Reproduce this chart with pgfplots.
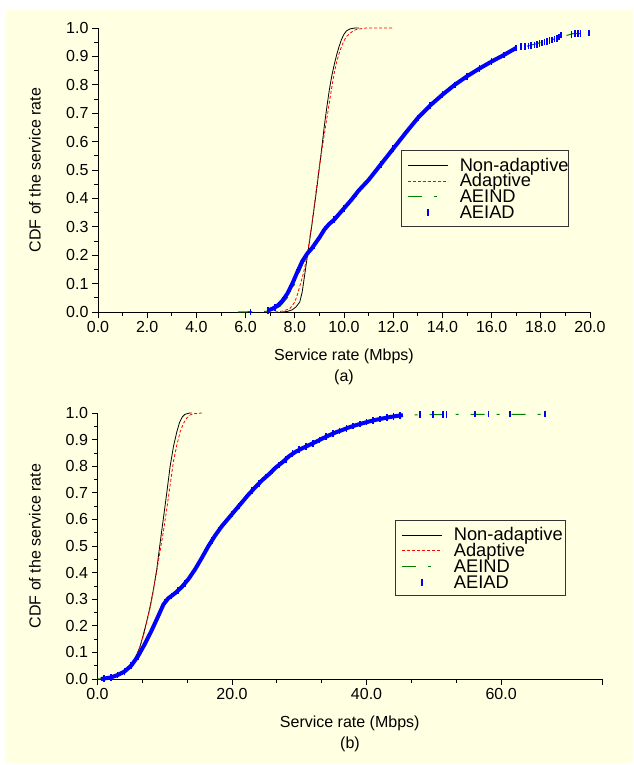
\documentclass[border=0pt]{standalone}
\usepackage{fontspec}
\setmainfont{Liberation Sans}
\usepackage{pgfplots}
\pgfplotsset{compat=1.18}
\definecolor{bgyellow}{HTML}{FFFFE1}
\definecolor{dgreen}{RGB}{0,128,0}

\pgfplotsset{
  cdfstyle/.style={
    scale only axis, anchor=south west, clip=false,
    ymin=0, ymax=1,
    axis x line*=bottom, axis y line*=left,
    axis line style={line width=0.8pt, black},
    tick style={line width=0.8pt, black},
    tick align=outside, major tick length=6pt, minor tick length=3.5pt,
    ytick={0,0.1,0.2,0.3,0.4,0.5,0.6,0.7,0.8,0.9,1.0},
    minor y tick num=1,
    /pgf/number format/assume math mode=true,
    xticklabel={\pgfmathprintnumber[fixed,fixed zerofill,precision=1]{\tick}},
    yticklabel={\pgfmathprintnumber[fixed,fixed zerofill,precision=1]{\tick}},
    every tick label/.append style={font=\fontsize{16}{19}\selectfont},
    every axis y label/.style={rotate=90, anchor=center, font=\fontsize{16}{19}\selectfont},
    every axis x label/.style={at={(axis description cs:0.5,0)}, anchor=base, yshift=-48pt, font=\fontsize{16}{19}\selectfont},
    xlabel={Service rate (Mbps)},
    ylabel={CDF of the service rate},
    legend image code/.code={\draw[mark repeat=2,mark phase=2,##1] plot coordinates {(0pt,0pt) (20pt,0pt) (40pt,0pt)};\path (-4.5pt,0pt) (51pt,0pt);},
    legend cell align=left,
    legend style={draw=none, fill=none, anchor=north west,
      font=\fontsize{18.3}{18.3}\selectfont, inner xsep=1pt, inner ysep=7pt, row sep=0pt,
      nodes={inner sep=0.5pt}},
  },
  blk/.style={color=black, draw=black, line width=0.8pt},
  rdd/.style={color=red, draw=red, line width=0.8pt, dash pattern=on 3pt off 2pt},
  grn/.style={color=dgreen, draw=dgreen, line width=1pt, dash pattern=on 14pt off 12pt on 3pt off 12pt},
  bthick/.style={color=blue, draw=blue, line width=4pt, line join=round, forget plot},
  bmark/.style={color=blue, draw=blue, only marks, mark=|, mark size=3.3pt, every mark/.append style={draw=blue, line width=1.6pt}},
}

% ---------------- data (a) ----------------
\pgfplotstableread{
x y
7.5 0
7.7 0.002
7.9 0.008
8.05 0.018
8.2 0.035
8.3 0.07
8.4 0.13
8.5 0.19
8.6 0.25
8.7 0.31
8.8 0.375
8.9 0.44
9.0 0.51
9.1 0.58
9.2 0.655
9.3 0.72
9.4 0.78
9.5 0.83
9.6 0.87
9.7 0.905
9.8 0.935
9.9 0.96
10.0 0.978
10.1 0.99
10.25 0.997
10.45 1.0
10.6 1.0
}\nonadA
\pgfplotstableread{
x y
7.2 0
7.5 0.003
7.8 0.012
8.0 0.035
8.1 0.06
8.2 0.09
8.3 0.12
8.4 0.155
8.5 0.2
8.6 0.255
8.7 0.315
8.8 0.38
8.9 0.45
9.0 0.51
9.1 0.57
9.2 0.625
9.3 0.68
9.4 0.735
9.5 0.79
9.6 0.84
9.7 0.88
9.8 0.91
9.9 0.935
10.0 0.955
10.1 0.97
10.3 0.985
10.5 0.995
10.9 1.0
12.0 1.0
}\adA
\pgfplotstableread{
x y
5.7 0
7.0 0.003
7.4 0.02
7.7 0.05
8.0 0.1
8.3 0.165
8.5 0.2
8.7 0.225
9.0 0.262
9.4 0.31
10.0 0.365
11.0 0.465
12.0 0.575
13.0 0.683
14.0 0.765
15.0 0.83
16.0 0.882
17.0 0.93
17.4 0.935
18.5 0.96
19.3 0.98
19.6 0.98
}\aeindA
\pgfplotstableread{
x y
6.9 0.005
7.1 0.012
7.3 0.022
7.5 0.04
7.7 0.065
7.9 0.1
8.1 0.14
8.3 0.178
8.5 0.205
8.7 0.225
9.0 0.262
9.2 0.29
9.4 0.31
9.6 0.325
9.8 0.345
10.0 0.365
10.3 0.395
10.6 0.428
11.0 0.465
11.5 0.52
12.0 0.575
12.5 0.63
13.0 0.683
13.5 0.727
14.0 0.765
14.5 0.8
15.0 0.83
15.5 0.857
16.0 0.882
16.5 0.905
17.0 0.93
}\aeiadA
\pgfplotstableread{
x y
6.2 0.0
6.9 0.005
7.2 0.016
7.5 0.04
7.8 0.082
8.1 0.14
8.4 0.19
8.8 0.235
9.2 0.29
9.6 0.325
10.0 0.365
10.5 0.415
11.0 0.465
11.5 0.52
12.0 0.575
12.5 0.63
13.0 0.683
13.5 0.727
14.0 0.765
14.5 0.8
15.0 0.83
15.5 0.857
16.0 0.882
16.5 0.905
17.0 0.93
17.2 0.934
17.35 0.935
17.5 0.937
17.6 0.938
17.75 0.94
17.85 0.942
17.95 0.945
18.05 0.947
18.15 0.95
18.25 0.953
18.35 0.955
18.45 0.958
18.55 0.961
18.65 0.964
18.75 0.968
18.82 0.975
19.25 0.978
19.38 0.98
19.5 0.98
19.62 0.98
19.95 0.982
}\aeiadAm

% ---------------- data (b) ----------------
\pgfplotstableread{
x y
1.0 0
2.0 0.003
3.0 0.01
4.0 0.025
5.0 0.05
5.8 0.09
6.3 0.12
6.8 0.165
7.3 0.215
7.8 0.27
8.3 0.335
8.8 0.41
9.3 0.51
9.8 0.605
10.3 0.70
10.8 0.80
11.3 0.875
11.8 0.93
12.2 0.965
12.6 0.985
13.0 0.995
13.7 1.0
14.0 1.0
}\nonadB
\pgfplotstableread{
x y
1.0 0
2.0 0.003
3.0 0.01
4.0 0.025
5.0 0.05
5.8 0.09
6.3 0.12
6.8 0.16
7.3 0.21
7.8 0.265
8.3 0.33
8.8 0.405
9.3 0.48
9.8 0.555
10.3 0.64
10.8 0.73
11.3 0.82
11.8 0.88
12.3 0.93
12.8 0.962
13.3 0.982
13.8 0.993
14.5 0.998
15.5 1.0
}\adB
\pgfplotstableread{
x y
0.0 0
1.0 0.002
2.0 0.006
3.0 0.015
4.0 0.028
5.0 0.05
6.0 0.085
7.0 0.13
8.0 0.18
9.0 0.235
9.8 0.28
10.5 0.303
12.5 0.345
14.5 0.412
16.5 0.5
18.5 0.575
20.5 0.635
22.5 0.695
24.5 0.748
26.5 0.795
28.5 0.838
30.5 0.868
32.5 0.892
34.5 0.917
36.5 0.937
38.5 0.955
40.5 0.969
42.5 0.98
44.5 0.989
45.4 0.992
50.0 0.994
55.0 0.995
60.0 0.995
66.5 0.995
}\aeindB
\pgfplotstableread{
x y
0.5 0
1.0 0.002
2.0 0.006
3.0 0.015
4.0 0.028
5.0 0.05
6.0 0.085
7.0 0.13
8.0 0.18
9.0 0.235
9.8 0.28
10.5 0.303
11.5 0.322
12.5 0.345
13.5 0.375
14.5 0.412
15.5 0.455
16.5 0.5
17.5 0.54
18.5 0.575
19.5 0.605
20.5 0.635
21.5 0.665
22.5 0.695
23.5 0.722
24.5 0.748
25.5 0.77
26.5 0.795
27.5 0.815
28.5 0.838
29.5 0.855
30.5 0.868
31.5 0.88
32.5 0.892
33.5 0.905
34.5 0.917
35.5 0.928
36.5 0.937
37.5 0.947
38.5 0.955
39.5 0.962
40.5 0.969
41.5 0.975
42.5 0.98
43.5 0.985
44.5 0.989
45.4 0.992
}\aeiadB
\pgfplotstableread{
x y
1.0 0.002
2.0 0.006
3.0 0.015
4.0 0.028
5.0 0.05
6.0 0.085
7.0 0.13
8.0 0.18
9.0 0.235
10.0 0.29
11.0 0.312
12.0 0.333
13.0 0.36
14.0 0.393
15.0 0.433
16.0 0.478
17.0 0.52
18.0 0.558
19.0 0.59
20.0 0.62
21.0 0.65
22.0 0.68
23.0 0.708
24.0 0.735
25.0 0.759
26.0 0.782
27.0 0.805
28.0 0.826
29.0 0.847
30.0 0.862
31.0 0.874
32.0 0.886
33.0 0.898
34.0 0.911
35.0 0.922
36.0 0.933
37.0 0.942
38.0 0.951
39.0 0.959
40.0 0.966
41.0 0.972
42.0 0.978
43.0 0.983
44.0 0.987
45.0 0.99
47.9 0.994
49.9 0.995
51.4 0.995
51.9 0.995
56.1 0.996
58.1 0.996
61.3 0.996
66.5 0.997
}\aeiadBm

\begin{document}
\begin{tikzpicture}
\path[use as bounding box] (0,0) rectangle (633pt,-765pt);
\fill[bgyellow] (6pt,-10pt) rectangle (633pt,-763pt);

% ---------------- (a) ----------------
\begin{axis}[cdfstyle,
  at={(98pt,-312pt)}, width=492pt, height=284pt,
  xmin=0, xmax=20,
  xtick={0,2,4,6,8,10,12,14,16,18,20}, minor x tick num=1,
  every axis y label/.append style={at={(axis description cs:-0.128,0.5)}},
  legend style={at={(0.617,0.57)}},
]
\addplot[blk] table {\nonadA};
\addlegendentry{Non-adaptive\vphantom{dp}}
\addplot[rdd] table {\adA};
\addlegendentry{Adaptive\vphantom{dp}}
\addplot[grn] table {\aeindA};
\addlegendentry{AEIND\vphantom{dp}}
\addplot[bthick] table {\aeiadA};
\addplot[bmark] table {\aeiadAm};
\addlegendentry{AEIAD\vphantom{dp}}
\draw[draw=black!80, line width=0.8pt] (rel axis cs:0.617,0.570) rectangle (rel axis cs:0.957,0.300);
\end{axis}
\node[font=\fontsize{16}{19}\selectfont, anchor=base] at (344pt,-381.5pt) {(a)};

% ---------------- (b) ----------------
\begin{axis}[cdfstyle,
  at={(97.5pt,-679pt)}, width=504.5pt, height=266pt,
  xmin=0, xmax=75,
  xtick={0,20,40,60}, minor x tick num=2,
  extra x ticks={75}, extra x tick labels={},
  every axis y label/.append style={at={(axis description cs:-0.124,0.5)}},
  legend style={at={(0.591,0.598)}},
]
\addplot[blk] table {\nonadB};
\addlegendentry{Non-adaptive\vphantom{dp}}
\addplot[rdd] table {\adB};
\addlegendentry{Adaptive\vphantom{dp}}
\addplot[grn] table {\aeindB};
\addlegendentry{AEIND\vphantom{dp}}
\addplot[bthick] table {\aeiadB};
\addplot[bmark] table {\aeiadBm};
\addlegendentry{AEIAD\vphantom{dp}}
\draw[draw=black!80, line width=0.8pt] (rel axis cs:0.591,0.598) rectangle (rel axis cs:0.928,0.316);
\end{axis}
\node[font=\fontsize{16}{19}\selectfont, anchor=base] at (350pt,-748.5pt) {(b)};
\end{tikzpicture}
\end{document}
